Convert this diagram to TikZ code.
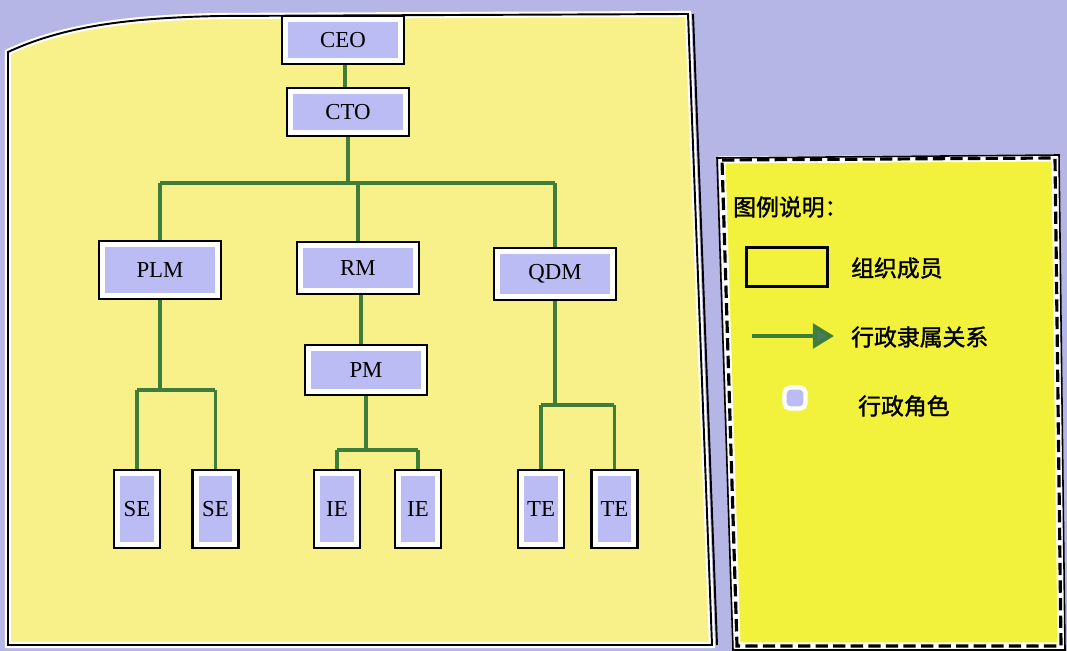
\documentclass[tikz,border=0pt]{standalone}
\usepackage{fontspec}
\setmainfont{Liberation Serif}
\newfontfamily\cjk{Noto Sans CJK SC}[FakeBold=1.5]
\usetikzlibrary{positioning,arrows.meta}

\definecolor{lavbg}{HTML}{B6B6E6}
\definecolor{lavbox}{HTML}{BCBCF4}
\definecolor{paleyel}{HTML}{F8F18A}
\definecolor{legyel}{HTML}{F2F13C}
\definecolor{linkgreen}{HTML}{3F7D3A}
\definecolor{headgreen}{HTML}{4B7B68}

\tikzset{
  member/.style={draw=black, line width=1.4pt, fill=white, inner sep=0pt,
    font=\fontsize{13}{15}\selectfont,
    path picture={\fill[lavbox] ([shift={(3.5pt,3.5pt)}]path picture bounding box.south west)
      rectangle ([shift={(-3.5pt,-3.5pt)}]path picture bounding box.north east);}},
  wide/.style={member, minimum width=2.45cm, minimum height=0.95cm},
  tall/.style={member, minimum width=0.92cm, minimum height=1.56cm},
  link/.style={draw=linkgreen, line width=2.2pt},
  legtext/.style={anchor=west, font=\cjk\fontsize{13}{15}\selectfont},
}

\begin{document}
\begin{tikzpicture}[x=0.02cm, y=-0.02cm]
\useasboundingbox (0,0) rectangle (1067,651);
\fill[lavbg] (0,0) rectangle (1067,651);

% left panel
\filldraw[fill=paleyel, draw=white, line width=3.5pt]
  (8,645) -- (8,52) .. controls (60,28) and (120,18) .. (220,16) -- (688,14) -- (712,645) -- cycle;
\draw[black, line width=1.1pt]
  (8,645) -- (8,52) .. controls (60,28) and (120,18) .. (220,16) -- (688,14) -- (712,645) -- cycle;
\draw[black, line width=1.1pt] (693,14) -- (717,645);

% legend panel
\fill[legyel] (722,160) -- (1055,158) -- (1061,646) -- (737,646) -- cycle;
\draw[white, line width=4pt] (722,160) -- (1055,158) -- (1061,646) -- (737,646) -- cycle;
\draw[black, line width=1.8pt, dash pattern=on 7pt off 3pt]
  (722,160) -- (1055,158) -- (1061,646) -- (737,646) -- cycle;
\draw[black, line width=0.9pt] (717,158) -- (1059,155) -- (1065,650) -- (733,650) -- cycle;

% organisation
\node[wide] (ceo) at (343,40) {CEO};
\node[wide] (cto) at (348,112) {CTO};
\node[wide, minimum height=1.15cm] (plm) at (160,270) {PLM};
\node[wide, minimum height=1.05cm] (rm) at (358,268) {RM};
\node[wide, minimum height=1.05cm] (qdm) at (555,274) {QDM};
\node[wide, minimum height=1.0cm] (pm) at (366,370) {PM};

\node[tall] (se1) at (137,509) {SE};
\node[tall, right=0.6cm of se1] (se2) {SE};
\node[tall] (ie1) at (337,509) {IE};
\node[tall, right=0.65cm of ie1] (ie2) {IE};
\node[tall] (te1) at (541,509) {TE};
\node[tall, right=0.5cm of te1] (te2) {TE};

\coordinate (bus) at (348,183);
\coordinate (seJ) at (160,390);
\coordinate (ieJ) at (370,450);
\coordinate (teJ) at (560,405);

\draw[link] (ceo.south -| 345,0) -- (cto.north -| 345,0);
\draw[link] (cto) -- (bus);
\draw[link] (plm |- bus) -- (qdm |- bus);
\draw[link] (plm |- bus) -- (plm);
\draw[link] (rm |- bus) -- (rm);
\draw[link] (qdm |- bus) -- (qdm);

\draw[link] (plm) -- (plm |- seJ);
\draw[link] (se1 |- seJ) -- (se2 |- seJ);
\draw[link] (se1 |- seJ) -- (se1);
\draw[link] (se2 |- seJ) -- (se2);

\draw[link] (rm.south -| 361,0) -- (pm.north -| 361,0);
\draw[link] (pm) -- (pm |- ieJ);
\draw[link] (ie1 |- ieJ) -- (ie2 |- ieJ);
\draw[link] (ie1 |- ieJ) -- (ie1);
\draw[link] (ie2 |- ieJ) -- (ie2);

\draw[link] (qdm) -- (qdm |- teJ);
\draw[link] (te1 |- teJ) -- (te2 |- teJ);
\draw[link] (te1 |- teJ) -- (te1);
\draw[link] (te2 |- teJ) -- (te2);

% legend
\node[legtext] (legtitle) at (727,207) {图例说明：};
\node[draw=black, line width=1.6pt, fill=legyel, minimum width=1.62cm, minimum height=0.78cm] (legbox) at (787,267) {};
\node[legtext] (legboxtxt) at (845,268) {组织成员};
\coordinate (arrL) at (752,336);
\coordinate (arrR) at (834,336);
\draw[link, -{Triangle[length=12pt, width=14pt, fill=headgreen]}] (arrL) -- (arrR);
\node[legtext] (legarrtxt) at (845,337) {行政隶属关系};
\node[draw=white, line width=2.5pt, fill=lavbox, rounded corners=3pt, minimum size=0.42cm] (legrole) at (795,398) {};
\node[legtext] (legroletxt) at (852,406) {行政角色};
\end{tikzpicture}
\end{document}
